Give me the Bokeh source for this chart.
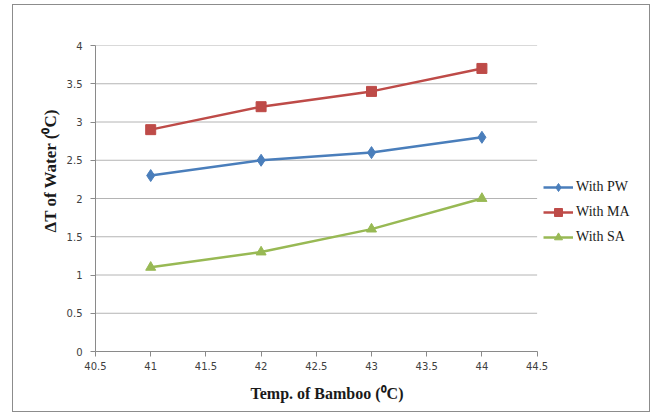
from bokeh.plotting import figure
from bokeh.models import Range1d, Legend, LegendItem, FixedTicker, Title
from bokeh.embed import file_html
from bokeh.resources import INLINE

temps = [41, 42, 43, 44]
with_pw = [2.3, 2.5, 2.6, 2.8]
with_ma = [2.9, 3.2, 3.4, 3.7]
with_sa = [1.1, 1.3, 1.6, 2.0]
x_ticks = [40.5, 41, 41.5, 42, 42.5, 43, 43.5, 44, 44.5]
y_ticks = [0, 0.5, 1, 1.5, 2, 2.5, 3, 3.5, 4]
x_title = "Temp. of Bamboo (⁰C)"
y_title = "ΔT of Water (⁰C)"

# plot area of the axis is 440 px wide; the frame is widened to hold the legend
axis_px = 440
frame_px = 545
x_lo, x_hi = x_ticks[0], x_ticks[-1]
x_end = x_lo + (x_hi - x_lo) * frame_px / axis_px

p = figure(width=638, height=408, output_backend="svg", toolbar_location=None,
           x_range=Range1d(x_lo, x_end), y_range=Range1d(y_ticks[0], y_ticks[-1]),
           min_border_left=82, min_border_right=9, min_border_top=40, min_border_bottom=62)
p.styles = {"border": "1px solid #8c8c8c", "box-sizing": "border-box",
            "margin-left": "12px", "margin-top": "4px"}
p.outline_line_color = None
p.background_fill_color = "white"
p.border_fill_color = "white"

p.xgrid.grid_line_color = None
p.ygrid.grid_line_color = None
p.segment(x0=[x_lo] * len(y_ticks[1:]), x1=[x_hi] * len(y_ticks[1:]),
          y0=y_ticks[1:], y1=y_ticks[1:], line_color="#b4b4b4", line_width=1)

for ax in (p.xaxis[0], p.yaxis[0]):
    ax.axis_line_color = "#8a8a8a"
    ax.major_tick_line_color = "#8a8a8a"
    ax.minor_tick_line_color = None
    ax.major_tick_in = 0
    ax.major_tick_out = 5
    ax.major_label_text_font = "DejaVu Sans"
    ax.major_label_text_font_size = "10px"
    ax.major_label_text_color = "#404040"

p.xaxis[0].bounds = (x_lo, x_hi)
p.xaxis[0].ticker = FixedTicker(ticks=x_ticks)
p.yaxis[0].ticker = FixedTicker(ticks=y_ticks)
p.xaxis[0].major_label_standoff = 5
p.yaxis[0].major_label_standoff = 8

xt = Title(text=x_title, align="left", offset=155, standoff=20,
           text_font="Liberation Serif", text_font_style="bold",
           text_font_size="16px", text_color="#1a1a1a")
p.add_layout(xt, "below")
yt = Title(text=y_title, align="left", offset=119, standoff=7,
           text_font="Liberation Serif", text_font_style="bold",
           text_font_size="17px", text_color="#1a1a1a")
p.add_layout(yt, "left")

blue, red, green = "#4a7ebb", "#be4b48", "#98b954"

l1 = p.line(temps, with_pw, line_color=blue, line_width=2.5)
m1 = p.scatter(temps, with_pw, marker="diamond", size=12, fill_color=blue, line_color=blue)
l2 = p.line(temps, with_ma, line_color=red, line_width=2.5)
m2 = p.scatter(temps, with_ma, marker="square", size=10, fill_color=red, line_color=red)
l3 = p.line(temps, with_sa, line_color=green, line_width=2.5)
m3 = p.scatter(temps, with_sa, marker="triangle", size=10, fill_color=green, line_color=green)

legend = Legend(items=[
    LegendItem(label="With PW", renderers=[l1, m1]),
    LegendItem(label="With MA", renderers=[l2, m2]),
    LegendItem(label="With SA", renderers=[l3, m3]),
], location=(448, 104))
legend.background_fill_alpha = 0
legend.border_line_color = None
legend.padding = 0
legend.margin = 0
legend.spacing = 5
legend.glyph_width = 30
legend.glyph_height = 20
legend.label_standoff = 3
legend.label_text_font = "Liberation Serif"
legend.label_text_font_size = "14px"
legend.label_text_color = "#1a1a1a"
p.add_layout(legend)

open("out.html", "w").write(file_html(p, INLINE))
